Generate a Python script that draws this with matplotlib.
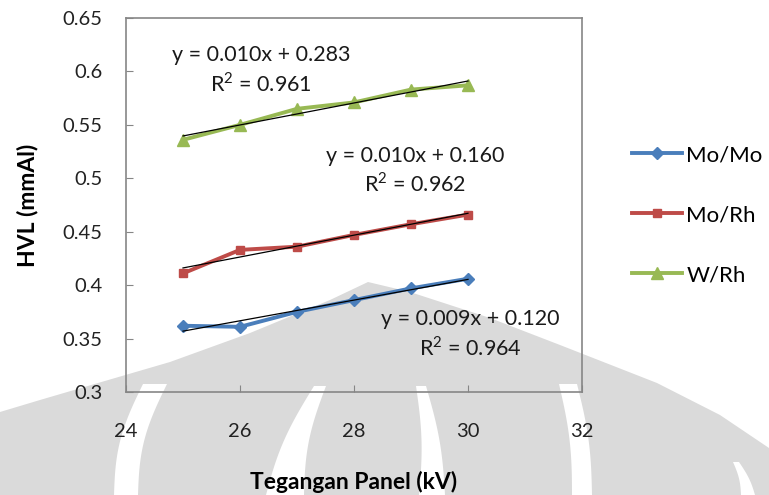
import numpy as np
import matplotlib.pyplot as plt
from matplotlib.patches import Polygon

# tube voltage (kV) and measured half value layer (mm Al)
kv = [25, 26, 27, 28, 29, 30]
hvl_mo_mo = [0.362, 0.361, 0.375, 0.386, 0.397, 0.406]
hvl_mo_rh = [0.411, 0.433, 0.436, 0.447, 0.457, 0.466]
hvl_w_rh = [0.536, 0.550, 0.565, 0.571, 0.583, 0.587]

labels = ['Mo/Mo', 'Mo/Rh', 'W/Rh']
fit_text = ['y = 0.009x + 0.120\nR$^2$ = 0.964',
            'y = 0.010x + 0.160\nR$^2$ = 0.962',
            'y = 0.010x + 0.283\nR$^2$ = 0.961']

plt.rcParams['font.family'] = ['Lato', 'DejaVu Sans']
plt.rcParams['mathtext.fontset'] = 'custom'
plt.rcParams['mathtext.rm'] = 'Lato'

W, H = 769, 495
fig = plt.figure(figsize=(W / 100, H / 100), dpi=100)

# faint logo in the background, drawn in pixel units (y down)
bg = fig.add_axes([0, 0, 1, 1], zorder=-1)
bg.set_xlim(0, W)
bg.set_ylim(H, 0)
bg.axis('off')
grey = '#dadada'
dome = [(368, 282), (330, 300), (250, 333), (170, 362), (98, 383), (40, 400),
        (0, 412), (0, 495), (769, 495), (769, 448), (720, 415), (657, 383),
        (560, 345), (490, 318), (410, 292)]
bg.add_patch(Polygon(dome, closed=True, fc=grey, ec='none'))

# white curved gaps between the petals: (top x, top width, bottom x, bottom width, bend, top y)
gaps = [(155, 24, 126, 24, -8, 384),
        (320, 12, 285, 38, -6, 386),
        (421, 10, 432, 26, 4, 386),
        (568, 18, 582, 20, 4, 384),
        (736, 6, 748, 14, 2, 462)]
t = np.linspace(0, 1, 40)
for xt, wt, xb, wb, bend, yt in gaps:
    xc = xt + (xb - xt) * t + bend * np.sin(np.pi * t)
    hw = (wt + (wb - wt) * t) / 2
    yc = yt + (H - yt) * t
    pts = list(zip(xc - hw, yc)) + list(zip((xc + hw)[::-1], yc[::-1]))
    bg.add_patch(Polygon(pts, closed=True, fc='white', ec='none'))

ax = fig.add_axes([126 / W, 1 - 392 / H, (582 - 126) / W, (392 - 18) / H])
ax.set_facecolor('none')

colors = ['#4a7ebb', '#be4b48', '#98b954']
markers = ['D', 's', '^']
msizes = [6.5, 6, 8]
series = [hvl_mo_mo, hvl_mo_rh, hvl_w_rh]
text_pos = [(30.04, 0.354), (29.07, 0.507), (26.37, 0.601)]

x = np.array(kv)
for y, c, m, ms, lab, txt, pos in zip(series, colors, markers, msizes,
                                      labels, fit_text, text_pos):
    ax.plot(kv, y, color=c, lw=2.8, marker=m, ms=ms, label=lab, zorder=3)
    # linear trendline
    k, b = np.polyfit(x, y, 1)
    ax.plot(x, k * x + b, color='black', lw=0.9, zorder=4)
    ax.text(pos[0], pos[1], txt, ha='center', va='center',
            multialignment='center', fontsize=15.5, linespacing=1.3,
            color='#1a1a1a')

ax.set_xlim(24, 32)
ax.set_ylim(0.3, 0.65)
ax.set_xticks([24, 26, 28, 30, 32])
ax.set_yticks(np.arange(0.3, 0.651, 0.05))
ax.set_yticklabels(['0.3', '0.35', '0.4', '0.45', '0.5', '0.55', '0.6', '0.65'])
ax.tick_params(direction='in', length=5, color='#868686', labelsize=14.5,
               labelcolor='#222222')
ax.tick_params(axis='y', pad=17)
ax.tick_params(axis='x', pad=22)
for s in ax.spines.values():
    s.set_color('#868686')
    s.set_linewidth(1.2)

ax.set_xlabel('Tegangan Panel (kV)', fontsize=16.5, fontweight='bold')
ax.xaxis.set_label_coords(0.5, -0.21)
ax.set_ylabel('HVL (mmAl)', fontsize=16.5, fontweight='bold')
ax.yaxis.set_label_coords(-0.193, 0.5)

fig.legend(loc='upper left', bbox_to_anchor=(632 / W, 1 - 145 / H),
           frameon=False, fontsize=16, labelspacing=1.8, handlelength=2.25,
           handletextpad=0.2, borderpad=0, borderaxespad=0)

plt.savefig('out.png', dpi=100)
